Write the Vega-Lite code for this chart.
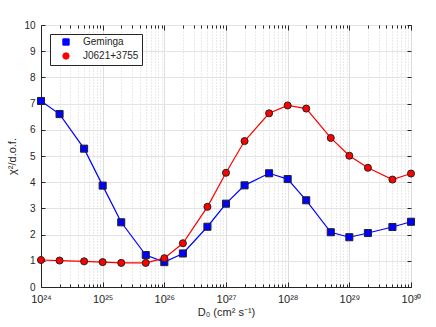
{
  "$schema": "https://vega.github.io/schema/vega-lite/v6.json",
  "autosize": "none",
  "padding": {"left": 41, "top": 25, "right": 25, "bottom": 40},
  "width": 370,
  "height": 262,
  "config": {
    "font": "Liberation Sans",
    "view": {"stroke": "#262626", "strokeWidth": 1},
    "axis": {"labelColor": "#262626", "titleColor": "#262626", "labelFontSize": 10, "titleFontSize": 11, "titleFontWeight": "normal", "domainColor": "#262626", "tickColor": "#262626"}
  },
  "data": {"values": [
    {"D0": 1e24, "chi2": 7.1, "source": "Geminga"},
    {"D0": 2e24, "chi2": 6.6, "source": "Geminga"},
    {"D0": 5e24, "chi2": 5.28, "source": "Geminga"},
    {"D0": 1e25, "chi2": 3.87, "source": "Geminga"},
    {"D0": 2e25, "chi2": 2.47, "source": "Geminga"},
    {"D0": 5e25, "chi2": 1.22, "source": "Geminga"},
    {"D0": 1e26, "chi2": 0.95, "source": "Geminga"},
    {"D0": 2e26, "chi2": 1.28, "source": "Geminga"},
    {"D0": 5e26, "chi2": 2.3, "source": "Geminga"},
    {"D0": 1e27, "chi2": 3.18, "source": "Geminga"},
    {"D0": 2e27, "chi2": 3.88, "source": "Geminga"},
    {"D0": 5e27, "chi2": 4.34, "source": "Geminga"},
    {"D0": 1e28, "chi2": 4.12, "source": "Geminga"},
    {"D0": 2e28, "chi2": 3.31, "source": "Geminga"},
    {"D0": 5e28, "chi2": 2.09, "source": "Geminga"},
    {"D0": 1e29, "chi2": 1.9, "source": "Geminga"},
    {"D0": 2e29, "chi2": 2.06, "source": "Geminga"},
    {"D0": 5e29, "chi2": 2.29, "source": "Geminga"},
    {"D0": 1e30, "chi2": 2.49, "source": "Geminga"},
    {"D0": 1e24, "chi2": 1.03, "source": "J0621+3755"},
    {"D0": 2e24, "chi2": 1.01, "source": "J0621+3755"},
    {"D0": 5e24, "chi2": 0.98, "source": "J0621+3755"},
    {"D0": 1e25, "chi2": 0.95, "source": "J0621+3755"},
    {"D0": 2e25, "chi2": 0.92, "source": "J0621+3755"},
    {"D0": 5e25, "chi2": 0.92, "source": "J0621+3755"},
    {"D0": 1e26, "chi2": 1.1, "source": "J0621+3755"},
    {"D0": 2e26, "chi2": 1.67, "source": "J0621+3755"},
    {"D0": 5e26, "chi2": 3.06, "source": "J0621+3755"},
    {"D0": 1e27, "chi2": 4.36, "source": "J0621+3755"},
    {"D0": 2e27, "chi2": 5.57, "source": "J0621+3755"},
    {"D0": 5e27, "chi2": 6.63, "source": "J0621+3755"},
    {"D0": 1e28, "chi2": 6.93, "source": "J0621+3755"},
    {"D0": 2e28, "chi2": 6.81, "source": "J0621+3755"},
    {"D0": 5e28, "chi2": 5.69, "source": "J0621+3755"},
    {"D0": 1e29, "chi2": 5.01, "source": "J0621+3755"},
    {"D0": 2e29, "chi2": 4.55, "source": "J0621+3755"},
    {"D0": 5e29, "chi2": 4.1, "source": "J0621+3755"},
    {"D0": 1e30, "chi2": 4.33, "source": "J0621+3755"}
  ]},
  "layer": [
    {
      "mark": {"type": "line", "strokeWidth": 1.2},
      "encoding": {
        "x": {"field": "D0", "type": "quantitative", "scale": {"type": "log", "domain": [1e24, 1e30], "nice": false},
          "axis": {
            "orient": "bottom",
            "title": "D₀ (cm² s⁻¹)",
            "titlePadding": 2,
            "values": [1e24,2e24,3e24,4e24,5e24,6e24,7e24,8e24,9e24,1e25,2e25,3e25,4e25,5e25,6e25,7e25,8e25,9e25,1e26,2e26,3e26,4e26,5e26,6e26,7e26,8e26,9e26,1e27,2e27,3e27,4e27,5e27,6e27,7e27,8e27,9e27,1e28,2e28,3e28,4e28,5e28,6e28,7e28,8e28,9e28,1e29,2e29,3e29,4e29,5e29,6e29,7e29,8e29,9e29,1e30],
            "labelExpr": "abs(log(datum.value)/LN10 - round(log(datum.value)/LN10)) < 0.01 ? '10' + ['⁰','¹','²','³','⁴','⁵','⁶','⁷','⁸','⁹'][floor(round(log(datum.value)/LN10)/10)] + ['⁰','¹','²','³','⁴','⁵','⁶','⁷','⁸','⁹'][round(log(datum.value)/LN10) % 10] : ''",
            "labelFontSize": 11,
            "labelPadding": 11,
            "labelFlush": false,
            "tickSize": {"condition": {"test": "abs(log(datum.value)/LN10 - round(log(datum.value)/LN10)) < 0.01", "value": -5}, "value": -3},
            "grid": true,
            "gridColor": {"condition": {"test": "abs(log(datum.value)/LN10 - round(log(datum.value)/LN10)) < 0.01", "value": "#dedede"}, "value": "#d4d4d4"},
            "gridDash": {"condition": {"test": "abs(log(datum.value)/LN10 - round(log(datum.value)/LN10)) < 0.01", "value": []}, "value": [1, 2]}
          }
        },
        "y": {"field": "chi2", "type": "quantitative", "scale": {"domain": [0, 10], "nice": false},
          "axis": {"orient": "left", "title": "χ²/d.o.f.", "titlePadding": 6, "values": [0,1,2,3,4,5,6,7,8,9,10], "tickSize": -4, "labelPadding": 10, "grid": true, "gridColor": "#e3e3e3"}
        },
        "color": {"field": "source", "type": "nominal", "scale": {"domain": ["Geminga", "J0621+3755"], "range": ["#0000ff", "#ff0000"]},
          "legend": {"title": null, "orient": "top-left", "offset": 9, "fillColor": "white", "strokeColor": "#262626", "padding": 3, "labelFontSize": 10, "labelColor": "#262626", "rowPadding": 2, "symbolSize": 40, "labelOffset": 12, "symbolOffset": 8, "symbolStrokeColor": "#222222", "symbolStrokeWidth": 1}
        }
      }
    },
    {
      "mark": {"type": "point", "filled": true, "opacity": 1, "stroke": "#222222", "strokeWidth": 1},
      "encoding": {
        "x": {"field": "D0", "type": "quantitative",
          "axis": {"orient": "top", "title": null, "labels": false, "grid": false, "domain": false,
            "values": [1e24,2e24,3e24,4e24,5e24,6e24,7e24,8e24,9e24,1e25,2e25,3e25,4e25,5e25,6e25,7e25,8e25,9e25,1e26,2e26,3e26,4e26,5e26,6e26,7e26,8e26,9e26,1e27,2e27,3e27,4e27,5e27,6e27,7e27,8e27,9e27,1e28,2e28,3e28,4e28,5e28,6e28,7e28,8e28,9e28,1e29,2e29,3e29,4e29,5e29,6e29,7e29,8e29,9e29,1e30],
            "tickSize": {"condition": {"test": "abs(log(datum.value)/LN10 - round(log(datum.value)/LN10)) < 0.01", "value": -5}, "value": -3}
          }
        },
        "y": {"field": "chi2", "type": "quantitative",
          "axis": {"orient": "right", "title": null, "labels": false, "grid": false, "domain": false, "values": [0,1,2,3,4,5,6,7,8,9,10], "tickSize": -4}
        },
        "color": {"field": "source", "type": "nominal", "legend": null},
        "shape": {"field": "source", "type": "nominal", "scale": {"domain": ["Geminga", "J0621+3755"], "range": ["square", "circle"]}, "legend": null},
        "size": {"value": 50}
      }
    }
  ],
  "resolve": {"axis": {"x": "independent", "y": "independent"}}
}
